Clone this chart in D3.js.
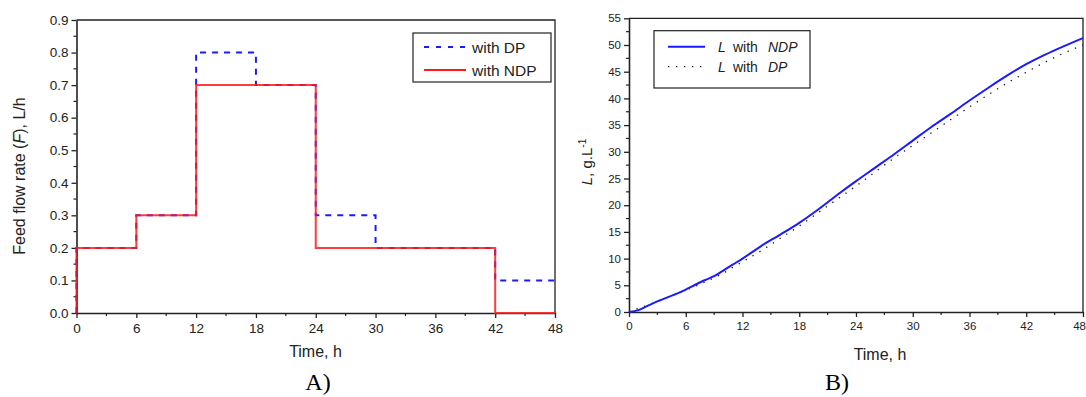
<!DOCTYPE html>
<html>
<head>
<meta charset="utf-8">
<script src="https://cdn.jsdelivr.net/npm/d3@7"></script>
<style>
  body { margin: 0; background: #fff; }
  svg { display: block; font-family: "Liberation Sans", Arial, sans-serif; }
</style>
</head>
<body>
<div id="chart"></div>
<script>
// A) feed flow rate, step profiles (value holds from this time to the next)
const feedTimesDP = [0, 0, 6, 12, 18, 24, 30, 42, 48];
const feedDP = [0, 0.2, 0.3, 0.8, 0.7, 0.3, 0.2, 0.1, 0.1];
const feedTimesNDP = [0, 0, 6, 12, 24, 42, 48];
const feedNDP = [0, 0.2, 0.3, 0.7, 0.2, 0, 0];

// B) L concentration
const lTimes = [0, 1, 2, 3, 4, 5, 6, 7, 8, 9, 10, 11, 12, 14, 16, 18, 20, 22, 24,
                26, 28, 30, 32, 34, 36, 38, 40, 42, 44, 46, 48];
const lNDP = [0, 0.35, 1.2, 2.0, 2.7, 3.4, 4.2, 5.1, 5.95, 6.7, 7.8, 8.9, 10.0, 12.4, 14.5, 16.7, 19.2, 21.9, 24.5,
              27.0, 29.5, 32.1, 34.7, 37.1, 39.6, 42.0, 44.3, 46.4, 48.2, 49.8, 51.3];
const lDP = [0, 0.7, 1.3, 2.0, 2.7, 3.4, 4.1, 4.8, 5.6, 6.4, 7.3, 8.4, 9.4, 11.5, 13.8, 16.1, 18.6, 21.1, 23.6,
             26.2, 28.8, 31.2, 33.6, 36.0, 38.4, 40.7, 42.9, 44.9, 46.8, 48.5, 50.0];

const timeTicks = [0, 6, 12, 18, 24, 30, 36, 42, 48];
const feedTicks = [0, 0.1, 0.2, 0.3, 0.4, 0.5, 0.6, 0.7, 0.8, 0.9];
const lTicks = [0, 5, 10, 15, 20, 25, 30, 35, 40, 45, 50, 55];

const axisColor = "#222";

const svg = d3.select("#chart").append("svg")
    .attr("width", 1086)
    .attr("height", 397);

function drawFrame(g, x, y, xTicks, yTicks, xMinor, yMinor, fontSize, yFormat) {
    const [x0, x1] = x.range();
    const [y0, y1] = y.range();

    // minor ticks
    g.selectAll(null).data(xMinor).enter().append("line")
        .attr("x1", d => x(d)).attr("x2", d => x(d))
        .attr("y1", y0).attr("y2", y0 + 3)
        .attr("stroke", axisColor).attr("stroke-width", 1.2);
    g.selectAll(null).data(yMinor).enter().append("line")
        .attr("y1", d => y(d)).attr("y2", d => y(d))
        .attr("x1", x0).attr("x2", x0 - 3)
        .attr("stroke", axisColor).attr("stroke-width", 1.2);

    const xAxis = g.append("g")
        .attr("transform", `translate(0,${y0})`)
        .call(d3.axisBottom(x).tickValues(xTicks).tickSize(5).tickPadding(5).tickSizeOuter(0));
    const yAxis = g.append("g")
        .attr("transform", `translate(${x0},0)`)
        .call(d3.axisLeft(y).tickValues(yTicks).tickFormat(yFormat).tickSize(5).tickPadding(3).tickSizeOuter(0));

    [xAxis, yAxis].forEach(a => {
        a.select(".domain").attr("stroke", axisColor).attr("stroke-width", 1.6);
        a.selectAll(".tick line").attr("stroke", axisColor).attr("stroke-width", 1.3);
        a.selectAll(".tick text")
            .attr("fill", axisColor)
            .style("font-size", fontSize + "px")
            .style("font-family", "Liberation Sans, Arial, sans-serif");
    });

    // top and right frame
    g.append("path")
        .attr("d", `M${x0},${y1}H${x1}V${y0}`)
        .attr("fill", "none")
        .attr("stroke", axisColor)
        .attr("stroke-width", 1.3);

    return xAxis;
}

// ---------- A) ----------
const xA = d3.scaleLinear().domain([0, 48]).range([76.5, 555]);
const yA = d3.scaleLinear().domain([0, 0.9]).range([313, 20]);
const gA = svg.append("g");

drawFrame(gA, xA, yA, timeTicks, feedTicks,
    d3.range(3, 48, 6), d3.range(0.05, 0.9, 0.1), 13.5, d3.format(".1f"));

const stepLine = d3.line()
    .x(d => xA(d[0]))
    .y(d => yA(d[1]))
    .curve(d3.curveStepAfter);

gA.append("path")
    .datum(d3.zip(feedTimesDP, feedDP))
    .attr("d", stepLine)
    .attr("fill", "none")
    .attr("stroke", "#1a1aff")
    .attr("stroke-width", 2)
    .attr("stroke-dasharray", "6,6");

gA.append("path")
    .datum(d3.zip(feedTimesNDP, feedNDP))
    .attr("d", stepLine)
    .attr("fill", "none")
    .attr("stroke", "#ff1a1a")
    .attr("stroke-width", 2)
    .style("opacity", 0.85);

// legend A
const legA = gA.append("g");
legA.append("rect")
    .attr("x", 413).attr("y", 33).attr("width", 138).attr("height", 49)
    .attr("fill", "#fff").attr("stroke", axisColor).attr("stroke-width", 1.2);
legA.append("line")
    .attr("x1", 424).attr("x2", 466).attr("y1", 47).attr("y2", 47)
    .attr("stroke", "#1a1aff").attr("stroke-width", 2).attr("stroke-dasharray", "5,7");
legA.append("line")
    .attr("x1", 424).attr("x2", 466).attr("y1", 70).attr("y2", 70)
    .attr("stroke", "#ff1a1a").attr("stroke-width", 2);
legA.append("text").attr("x", 472).attr("y", 52.5).style("font-size", "15.5px").attr("fill", axisColor).text("with DP");
legA.append("text").attr("x", 472).attr("y", 75.5).style("font-size", "15.5px").attr("fill", axisColor).text("with NDP");

// axis titles A
gA.append("text")
    .attr("x", 315.5).attr("y", 357)
    .attr("text-anchor", "middle")
    .style("font-size", "16px").attr("fill", axisColor)
    .text("Time, h");

const yTitleA = gA.append("text")
    .attr("transform", "translate(25,176) rotate(-90)")
    .attr("text-anchor", "middle")
    .style("font-size", "16px").attr("fill", axisColor);
yTitleA.append("tspan").text("Feed flow rate (");
yTitleA.append("tspan").style("font-style", "italic").text("F");
yTitleA.append("tspan").text("), L/h");

svg.append("text")
    .attr("x", 318).attr("y", 390)
    .attr("text-anchor", "middle")
    .style("font-family", "Liberation Serif, Times New Roman, serif")
    .style("font-size", "24px")
    .text("A)");

// ---------- B) ----------
const xB = d3.scaleLinear().domain([0, 48]).range([629, 1083]);
const yB = d3.scaleLinear().domain([0, 55]).range([312, 18.3]);
const gB = svg.append("g");

const xAxisB = drawFrame(gB, xB, yB, timeTicks, lTicks,
    d3.range(3, 48, 6), d3.range(2.5, 55, 5), 11.5, d3.format("d"));

// last label sits against the page edge; keep it inside
xAxisB.selectAll(".tick text")
    .filter(d => d === 48)
    .attr("text-anchor", "end")
    .attr("dx", 2.5);

const curveLine = d3.line()
    .x(d => xB(d[0]))
    .y(d => yB(d[1]))
    .curve(d3.curveMonotoneX);

gB.append("path")
    .datum(d3.zip(lTimes, lDP))
    .attr("d", curveLine)
    .attr("fill", "none")
    .attr("stroke", "#111")
    .attr("stroke-width", 1.3)
    .attr("stroke-dasharray", "1.3,6.7");

gB.append("path")
    .datum(d3.zip(lTimes, lNDP))
    .attr("d", curveLine)
    .attr("fill", "none")
    .attr("stroke", "#1a1aff")
    .attr("stroke-width", 2);

// legend B
const legB = gB.append("g");
legB.append("rect")
    .attr("x", 654).attr("y", 30.7).attr("width", 156).attr("height", 57.3)
    .attr("fill", "#fff").attr("stroke", axisColor).attr("stroke-width", 1.2);
legB.append("line")
    .attr("x1", 668).attr("x2", 705).attr("y1", 46.7).attr("y2", 46.7)
    .attr("stroke", "#1a1aff").attr("stroke-width", 2);
legB.append("line")
    .attr("x1", 668).attr("x2", 705).attr("y1", 66.7).attr("y2", 66.7)
    .attr("stroke", "#111").attr("stroke-width", 1.3).attr("stroke-dasharray", "1.3,6.7");

[["NDP", 51.7], ["DP", 71.7]].forEach(function(row) {
    const t = legB.append("text").attr("y", row[1]).style("font-size", "14px").attr("fill", axisColor);
    t.append("tspan").attr("x", 718).style("font-style", "italic").text("L");
    t.append("tspan").attr("x", 733).text("with");
    t.append("tspan").attr("x", 768).style("font-style", "italic").text(row[0]);
});

// axis titles B
gB.append("text")
    .attr("x", 880).attr("y", 360)
    .attr("text-anchor", "middle")
    .style("font-size", "16px").attr("fill", axisColor)
    .text("Time, h");

const yTitleB = gB.append("text")
    .attr("transform", "translate(592,162) rotate(-90)")
    .attr("text-anchor", "middle")
    .style("font-size", "15px").attr("fill", axisColor);
yTitleB.append("tspan").style("font-style", "italic").text("L");
yTitleB.append("tspan").text(", g.L");
yTitleB.append("tspan").attr("dy", -6).style("font-size", "10px").text("-1");

svg.append("text")
    .attr("x", 837).attr("y", 390)
    .attr("text-anchor", "middle")
    .style("font-family", "Liberation Serif, Times New Roman, serif")
    .style("font-size", "24px")
    .text("B)");
</script>
</body>
</html>
